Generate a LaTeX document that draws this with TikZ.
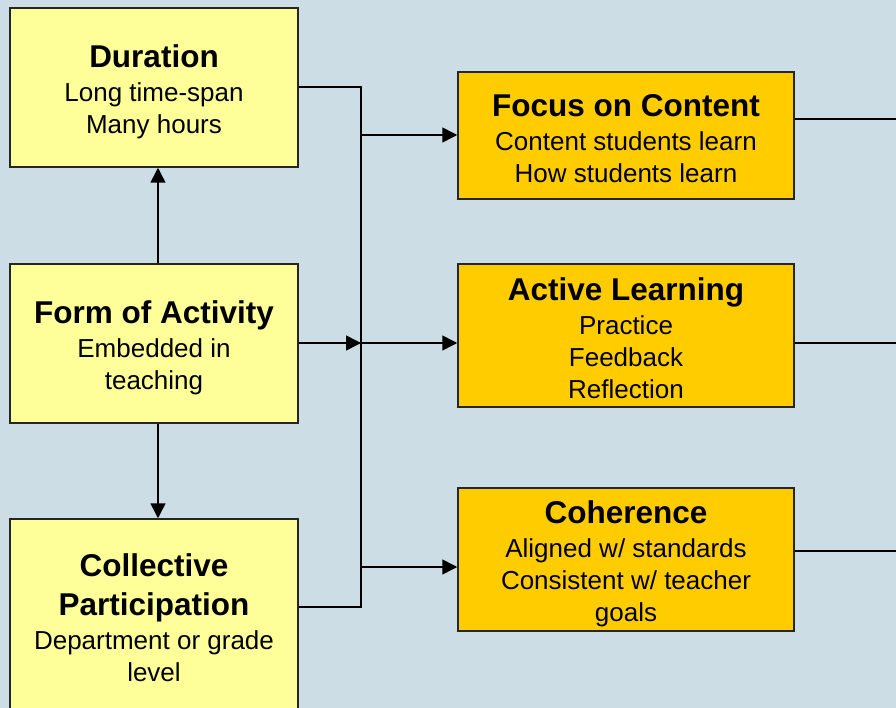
\documentclass[tikz,border=0pt]{standalone}
\usepackage{fontspec}
\setmainfont{Liberation Sans}
\usetikzlibrary{arrows.meta, calc}
\definecolor{bgblue}{HTML}{CDDDE5}
\definecolor{pale}{HTML}{FFFF99}
\definecolor{gold}{HTML}{FFCC00}
\tikzset{>={Triangle[length=15pt,width=15pt]}}
\tikzset{
    lbox/.style={draw=black!85, line width=1.5pt, fill=pale, align=center,
        minimum width=288pt, inner sep=0pt,
        font=\fontsize{26}{32}\selectfont},
    rbox/.style={lbox, fill=gold, minimum width=336pt},
    link/.style={line width=1.5pt, draw=black}
}
\newcommand{\ttl}[1]{{\bfseries\fontsize{31.5}{34}\selectfont #1}}
\newcommand{\lift}[1]{\rule{0pt}{#1}}

\begin{document}
\begin{tikzpicture}[x=1pt,y=-1pt]
    %background, picture is 896 x 708
    \fill[bgblue] (0,0) rectangle (896,708);
    \useasboundingbox (0,0) rectangle (896,708);
    \clip (0,0) rectangle (896,708);

    %left column
    \node[lbox, minimum height=159pt] (dur) at (154,87.5)
        {\lift{31pt}\ttl{Duration}\\[2pt]Long time-span\\Many hours};
    \node[lbox, minimum height=159pt] (form) at (154,343.5)
        {\lift{31pt}\ttl{Form of Activity}\\[2pt]Embedded in\\teaching};
    \node[lbox, minimum height=204pt] (coll) at (154,621)
        {\ttl{Collective}\\[7pt]\ttl{Participation}\\[2pt]Department or grade\\level\rule[-6pt]{0pt}{0pt}};

    %right column
    \node[rbox, minimum height=127pt] (focus) at (626,135.5)
        {\lift{29pt}\ttl{Focus on Content}\\[2pt]Content students learn\\How students learn};
    \node[rbox, minimum height=143pt] (act) at (626,335.5)
        {\lift{28pt}\ttl{Active Learning}\\[2pt]Practice\\Feedback\\Reflection};
    \node[rbox, minimum height=143pt] (coh) at (626,559.5)
        {\lift{32pt}\ttl{Coherence}\\[2pt]Aligned w/ standards\\Consistent w/ teacher\\goals};

    %junction points on the bus
    \coordinate (jt) at (361,87);
    \coordinate (j1) at (361,135);
    \coordinate (jm) at (361,343);
    \coordinate (j3) at (361,567);
    \coordinate (jb) at (361,607);

    %free ends at the right edge
    \coordinate (o1) at (896,119);
    \coordinate (o2) at (896,343);
    \coordinate (o3) at (896,551);

    %bus
    \draw[link] (dur.east |- jt) -- (jt) -- (jb) -- (jb -| coll.east);
    \draw[link, ->] (form.east |- jm) -- (jm);

    %into the right boxes
    \draw[link, ->] (j1) -- (j1 -| focus.west);
    \draw[link, ->] (jm) -- (jm -| act.west);
    \draw[link, ->] (j3) -- (j3 -| coh.west);

    %out of the right boxes
    \draw[link] (o1 -| focus.east) -- (o1);
    \draw[link] (o2 -| act.east) -- (o2);
    \draw[link] (o3 -| coh.east) -- (o3);

    %vertical arrows
    \draw[link, ->] ([xshift=4pt]form.north) -- ([xshift=4pt]dur.south);
    \draw[link, ->] ([xshift=4pt]form.south) -- ([xshift=4pt]coll.north);
\end{tikzpicture}
\end{document}
